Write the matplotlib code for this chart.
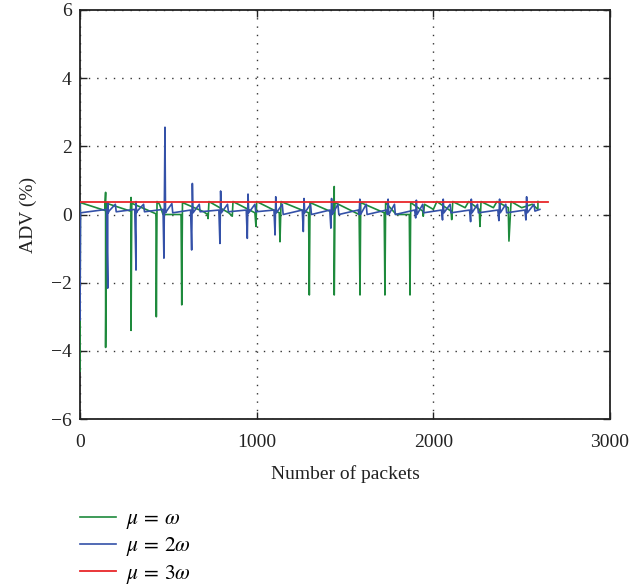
import matplotlib
matplotlib.use("Agg")
import matplotlib.pyplot as plt

plt.rcParams['font.family'] = ['Liberation Serif', 'DejaVu Serif']
plt.rcParams['mathtext.fontset'] = 'stix'

# ---- data (packets, ADV %) ----
green_x = [0, 2, 140, 145, 145, 150, 285, 289, 289, 293, 430, 432, 436, 450, 470, 572,
           576, 580, 700, 722, 725, 730, 842, 862, 866, 990, 996, 1000, 1128, 1132, 1138,
           1294, 1298, 1302, 1435, 1439, 1439, 1443, 1580, 1585, 1589, 1722, 1726, 1730,
           1790, 1864, 1868, 1872, 1940, 1943, 1950, 2000, 2020, 2100, 2104, 2110, 2180,
           2200, 2260, 2264, 2270, 2340, 2360, 2424, 2428, 2440, 2500, 2560, 2592, 2592]
green_y = [-4.6, 0.35, 0.12, 0.65, -3.9, 0.33, 0.1, 0.5, -3.4, 0.33, 0.02, -3.0, 0.38, 0.3, 0.0, 0.0,
           -2.65, 0.35, 0.08, 0.0, -0.12, 0.38, 0.05, -0.05, 0.38, 0.05, -0.35, 0.38, 0.05, -0.8, 0.38,
           0.05, -2.36, 0.35, 0.05, 0.82, -2.36, 0.35, 0.0, -2.36, 0.35, 0.05, -2.36, 0.35,
           0.0, 0.0, -2.36, 0.35, 0.1, -0.05, 0.3, 0.15, 0.38, 0.1, -0.15, 0.38, 0.2,
           0.38, 0.15, -0.35, 0.38, 0.2, 0.38, 0.2, -0.78, 0.38, 0.2, 0.3, 0.15, 0.38]

blue_x = [0, 0, 3, 150, 157, 157, 160, 164, 200, 205, 310, 317, 317, 320, 324, 360, 365,
          470, 475, 481, 484, 490, 520, 525, 626, 632, 636, 640, 675, 680, 786, 792, 796,
          800, 835, 840, 941, 947, 951, 955, 990, 995, 1098, 1104, 1108, 1112, 1145, 1150,
          1258, 1264, 1268, 1272, 1305, 1310, 1414, 1420, 1424, 1428, 1460, 1465, 1574, 1580,
          1584, 1588, 1620, 1625, 1734, 1740, 1744, 1748, 1780, 1785, 1894, 1900, 1904, 1908,
          1940, 1945, 2046, 2052, 2056, 2060, 2095, 2100, 2205, 2211, 2215, 2219, 2250, 2255,
          2365, 2371, 2375, 2379, 2410, 2415, 2518, 2524, 2528, 2532, 2570, 2575, 2603]
blue_y = [0.35, -3.1, 0.05, 0.15, -2.16, 0.35, 0.05, 0.1, 0.3, 0.08, 0.15, -1.63, 0.38, 0.05, 0.1,
          0.3, 0.08, 0.15, -1.28, 2.56, 0.05, 0.1, 0.32, 0.05, 0.13, -1.04, 0.91, 0.05, 0.3, 0.08,
          0.13, -0.85, 0.69, 0.05, 0.3, 0.08, 0.13, -0.7, 0.6, 0.05, 0.3, 0.08, 0.13, -0.6, 0.52,
          0.05, 0.3, 0.0, 0.13, -0.5, 0.47, 0.05, 0.3, 0.0, 0.13, -0.4, 0.47, 0.0, 0.3, 0.0,
          0.13, 0.0, 0.45, 0.0, 0.3, 0.0, 0.13, 0.0, 0.45, 0.0, 0.3, 0.0, 0.13, -0.1, 0.42, 0.0,
          0.3, 0.05, 0.13, -0.16, 0.45, 0.05, 0.3, 0.05, 0.13, -0.21, 0.45, 0.05, 0.3, 0.05,
          0.13, -0.18, 0.45, 0.05, 0.3, 0.05, 0.13, -0.16, 0.52, 0.05, 0.3, 0.1, 0.15]

red_x = [0, 2650]
red_y = [0.38, 0.38]

labels = [r'$\mu\,=\,\omega$', r'$\mu\,=\,2\omega$', r'$\mu\,=\,3\omega$']
colors = ['#1e8a3c', '#3451a8', '#e8262a']

xticks = [0, 1000, 2000, 3000]
yticks = [-6, -4, -2, 0, 2, 4, 6]

fig = plt.figure(figsize=(6.3, 5.86), dpi=100)
ax = fig.add_axes([80/630, 1-419/586, 530/630, 409/586])

l1, = ax.plot(green_x, green_y, color=colors[0], lw=1.2, zorder=3)
l2, = ax.plot(blue_x, blue_y, color=colors[1], lw=1.2, zorder=3.1)
l3, = ax.plot(red_x, red_y, color=colors[2], lw=1.3, zorder=3.2)

ax.set_xlim(0, 3000)
ax.set_ylim(-6, 6)
ax.set_xticks(xticks)
ax.set_yticks(yticks)
ax.set_yticklabels(['\u2212' + str(-t) if t < 0 else str(t) for t in yticks])
ax.tick_params(direction='in', length=5, width=1, top=True, right=True,
               labelsize=14, colors='#222222', pad=6)
ax.tick_params(axis='x', pad=11)
ax.grid(True, linestyle=(0, (1, 5)), color='#333333', linewidth=1)
for s in ax.spines.values():
    s.set_linewidth(1.3)
    s.set_color('#222222')

ax.set_xlabel('Number of packets', fontsize=14, color='#222222', labelpad=10)
ax.set_ylabel('ADV (%)', fontsize=14, color='#222222', labelpad=10)

fig.legend([l1, l2, l3], labels, loc='upper left',
           bbox_to_anchor=(80/630, 1-509/586), frameon=False, borderpad=0,
           borderaxespad=0, fontsize=15.5, handlelength=1.65,
           labelspacing=0.2, handletextpad=0.5)

fig.savefig('out.png', dpi=100)
